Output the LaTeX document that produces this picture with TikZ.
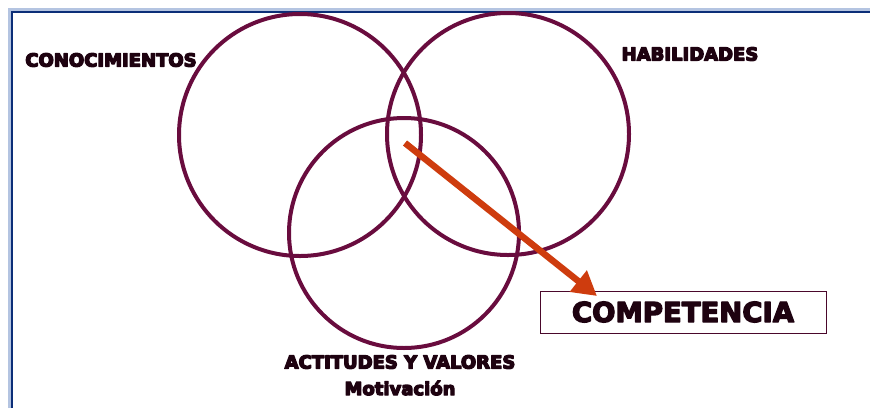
\documentclass[tikz,border=0pt]{standalone}
\usepackage{fontspec}
\setmainfont{DejaVu Sans}
\usetikzlibrary{arrows.meta}
\definecolor{ringcolor}{RGB}{105,12,62}
\definecolor{textcolor}{RGB}{30,2,16}
\definecolor{arrowcolor}{RGB}{206,60,14}
\definecolor{framecolor}{RGB}{12,46,120}
\definecolor{frameshade}{RGB}{180,196,225}
% heavier lettering: fill and stroke the glyphs
\newcommand{\heavytext}[1]{\special{pdf:literal direct 1 j 1.3 w 2 Tr}#1\special{pdf:literal direct 0 Tr}}

\begin{document}
\begin{tikzpicture}[
                x=1pt, y=-1pt,
                ring/.style={draw=ringcolor, line width=4pt, circle, inner sep=0pt},
                tag/.style={text=textcolor, font=\bfseries\fontsize{18}{20}\selectfont, inner sep=0pt},
                result/.style={draw=ringcolor!70!black, line width=0.9pt, minimum width=286pt, minimum height=42pt,
                    text=textcolor, font=\bfseries\fontsize{27.5}{30}\selectfont},
                link/.style={draw=arrowcolor, line width=6.5pt, -{Triangle[length=24pt,width=26pt]}}
                ]
                \useasboundingbox (0,0) rectangle (870,408);
                % frame
                \draw[frameshade, line width=4pt] (10,408) -- (10,10) -- (870,10);
                \draw[framecolor, line width=2.5pt] (12,408) -- (12,12) -- (870,12);
                % the three rings
                \node[ring, minimum size=242pt] (conocimientos) at (300,135) {};
                \node[ring, minimum size=242pt] (habilidades) at (508,134) {};
                \node[ring, minimum size=230pt] (actitudes) at (404,233) {};
                % labels
                \node[tag] (lblconoc) at (111,60) {\heavytext{CONOCIMIENTOS}};
                \node[tag] (lblhabil) at (690,54) {\heavytext{HABILIDADES}};
                \node[tag] (lblactit) at (400,362) {\heavytext{ACTITUDES Y VALORES}};
                \node[tag] (lblmotiv) at (400,388) {\heavytext{Motivación}};
                % result
                \node[result] (competencia) at (683,312) {\heavytext{COMPETENCIA}};
                \coordinate (core) at (405,143);
                \coordinate (tip) at (597,296);
                \draw[link] (core) -- (tip);
\end{tikzpicture}
\end{document}
